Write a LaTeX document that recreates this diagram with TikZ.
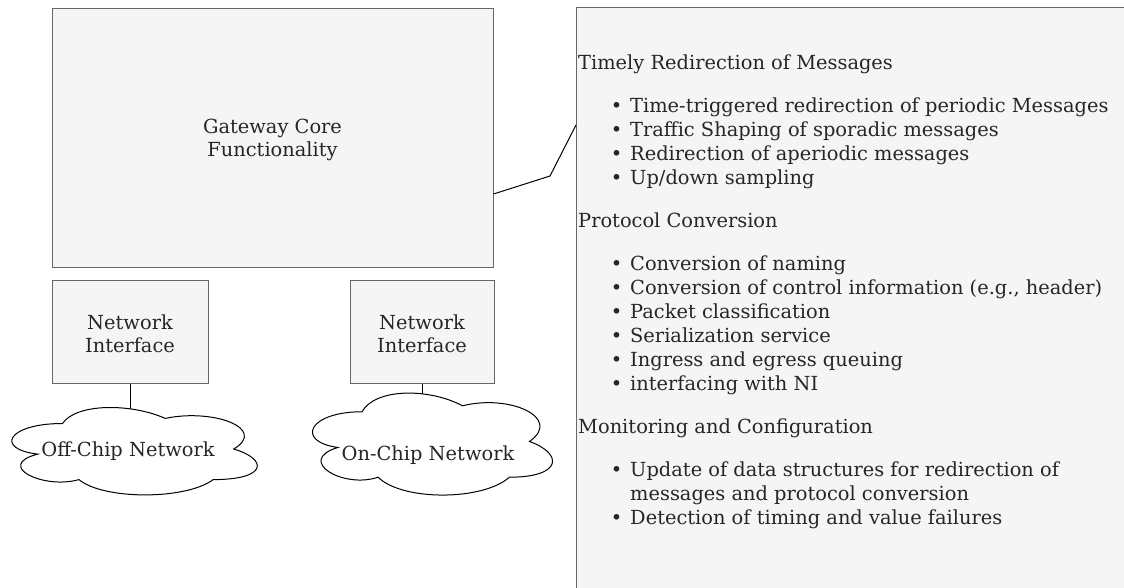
\documentclass[tikz,border=0pt]{standalone}
\usepackage{fontspec}
\setmainfont{DejaVu Serif}
\definecolor{boxfill}{HTML}{F5F5F5}
\definecolor{boxline}{HTML}{666666}
\definecolor{ink}{HTML}{262626}
\newcommand\mainsize{\fontsize{19.4pt}{24pt}\selectfont}
\newcommand\boxsize{\fontsize{19.4pt}{23pt}\selectfont}
\tikzset{
  box/.style={draw=boxline, fill=boxfill, line width=1pt, inner sep=0pt},
  boxtext/.style={inner sep=0pt, font=\boxsize, text=ink, align=center},
  conn/.style={draw=black, line width=1pt},
  cloudline/.style={draw=black, fill=white, line width=1pt},
  cloudtext/.style={anchor=base, inner sep=0pt, font=\mainsize, text=ink},
  head/.style={anchor=base west, inner sep=0pt, font=\mainsize, text=ink},
  entry/.style={head, execute at begin node={\llap{\textbullet\hspace{8pt}}}},
}
% drawio-like cloud outline in unit coordinates (scaled by the enclosing scope)
\newcommand\cloudoutline{%
  \draw[cloudline] (0.25,0.25)
    .. controls (0.05,0.25) and (0,0.5) .. (0.16,0.55)
    .. controls (0,0.66) and (0.18,0.9) .. (0.31,0.8)
    .. controls (0.4,1) and (0.7,1) .. (0.8,0.8)
    .. controls (1,0.8) and (1,0.6) .. (0.875,0.5)
    .. controls (1,0.3) and (0.8,0.1) .. (0.625,0.2)
    .. controls (0.5,0.05) and (0.3,0.05) .. (0.25,0.25) -- cycle;}
\begin{document}
\begin{tikzpicture}[x=1pt,y=-1pt]
\useasboundingbox (0,0) rectangle (1124,587);
\clip (0,0) rectangle (1124,587);

% gateway core and the two network interfaces
\node[box, minimum width=441pt, minimum height=259pt] (gw) at (272.5,137.5) {};
\node[boxtext] (gwtext) at ([yshift=-2pt]gw.center) {Gateway Core\\Functionality};
\node[box, minimum width=156pt, minimum height=103pt] (ni1) at (130,331.5) {};
\node[boxtext] (ni1text) at ([yshift=-2pt]ni1.center) {Network\\Interface};
\node[box, minimum width=144pt, minimum height=103pt] (ni2) at (422,331.5) {};
\node[boxtext] (ni2text) at ([yshift=-2pt]ni2.center) {Network\\Interface};

% networks
\begin{scope}[shift={(-6,398)}, x=274pt, y=-102pt]
  \cloudoutline
  \coordinate (offtop) at (0.5,0.105);
\end{scope}
\begin{scope}[shift={(295,382)}, x=268pt, y=-119pt]
  \cloudoutline
  \coordinate (ontop) at (0.476,0.1);
\end{scope}
\node[cloudtext] (offnet) at (128,456) {Off-Chip Network};
\node[cloudtext] (onnet) at (428,460) {On-Chip Network};

\draw[conn] (ni1.south) -- (ni1.south |- offtop);
\draw[conn] (ni2.south) -- (ni2.south |- ontop);

% feature list panel
\node[box, anchor=north west, minimum width=580pt, minimum height=620pt] (feat) at (576,7) {};
\coordinate (bend) at (550,176);
\draw[conn] ([yshift=-56.5pt]gw.east) -- (bend) -- ([yshift=-118pt]feat.north west);

\node[head] (h1) at (578,69) {Timely Redirection of Messages};
\node[entry] (a1) at (630,112) {Time-triggered redirection of periodic Messages};
\node[entry] (a2) at (630,136) {Traffic Shaping of sporadic messages};
\node[entry] (a3) at (630,160) {Redirection of aperiodic messages};
\node[entry] (a4) at (630,184) {Up/down sampling};

\node[head] (h2) at (578,227) {Protocol Conversion};
\node[entry] (b1) at (630,270) {Conversion of naming};
\node[entry] (b2) at (630,294) {Conversion of control information (e.g., header)};
\node[entry] (b3) at (630,318) {Packet classification};
\node[entry] (b4) at (630,342) {Serialization service};
\node[entry] (b5) at (630,366) {Ingress and egress queuing};
\node[entry] (b6) at (630,390) {interfacing with NI};

\node[head] (h3) at (578,433) {Monitoring and Configuration};
\node[entry] (c1) at (630,476) {Update of data structures for redirection of};
\node[head] (c1b) at (630,500) {messages and protocol conversion};
\node[entry] (c2) at (630,524) {Detection of timing and value failures};
\end{tikzpicture}
\end{document}
